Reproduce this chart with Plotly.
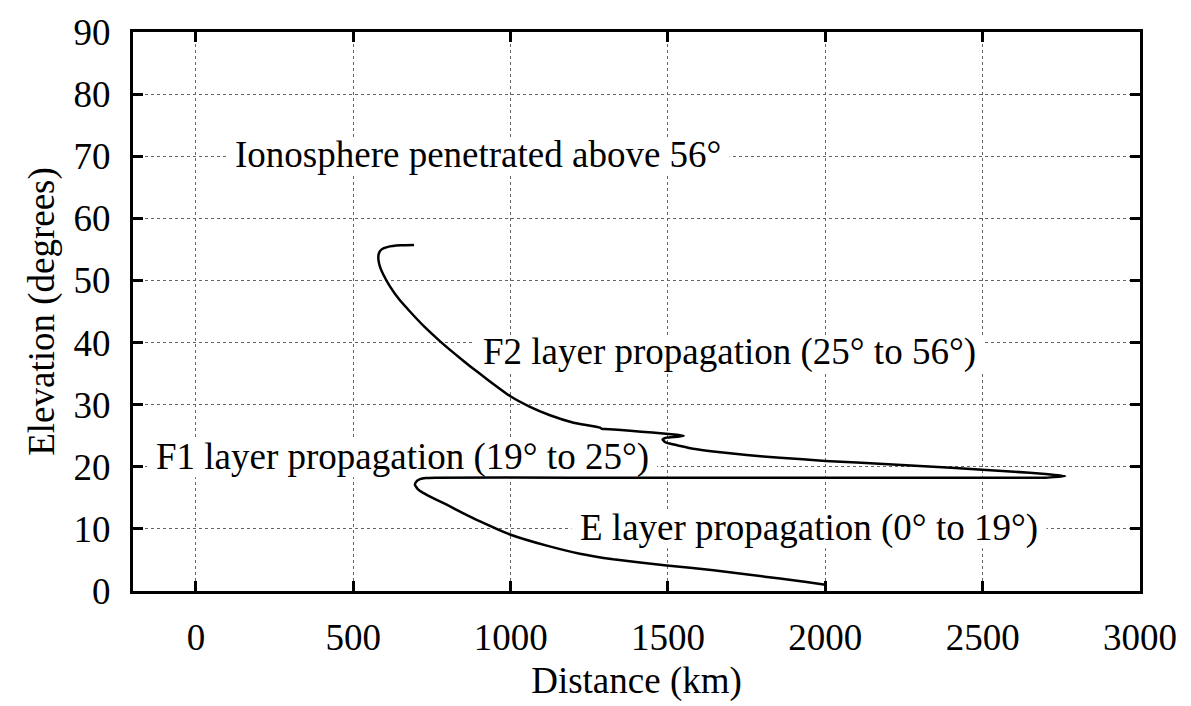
import plotly.graph_objects as go

# Ray trace: distance (km) vs launch elevation (degrees)
distance_km = [693, 650, 610, 590, 581, 580, 585, 595, 617, 645, 680, 725, 776, 820, 871, 930,
               998, 1060, 1125, 1200, 1284, 1290, 1300, 1380, 1450, 1520, 1550, 1530, 1495, 1483,
               1490, 1505, 1535, 1580, 1644, 1750, 1856, 2000, 2200, 2400, 2600, 2700, 2762,
               2700, 2000, 1200, 760, 730, 712, 700, 696, 705, 722, 760, 797,
               850, 903, 998, 1115, 1220, 1326, 1496, 1645, 1760, 1856, 1940, 2000]
elevation_deg = [55.7, 55.65, 55.4, 55.0, 54.3, 53.3, 52.2, 51.0, 49.0, 47.0, 45.0, 42.6, 40.2, 38.3, 36.2, 33.9,
                 31.4, 29.7, 28.3, 27.1, 26.3, 26.1, 26.1, 25.8, 25.5, 25.2, 25.0, 24.85, 24.7, 24.4,
                 24.0, 23.75, 23.4, 22.9, 22.45, 21.9, 21.45, 20.95, 20.4, 19.85, 19.2, 18.85, 18.5,
                 18.25, 18.25, 18.25, 18.25, 18.2, 18.0, 17.6, 17.1, 16.4, 15.8, 14.8, 13.9,
                 12.5, 11.2, 9.1, 7.3, 6.0, 5.1, 4.1, 3.35, 2.6, 2.0, 1.45, 1.0]

x_ticks = [0, 500, 1000, 1500, 2000, 2500, 3000]
y_ticks = [0, 10, 20, 30, 40, 50, 60, 70, 80, 90]

labels = ["Ionosphere penetrated above 56°",
          "F2 layer propagation (25° to 56°)",
          "F1 layer propagation (19° to 25°)",
          "E layer propagation (0° to 19°)"]
label_x = [896, 1697, 655, 1948]
label_y = [70, 38.1, 21.3, 9.9]

FONT = "Liberation Serif"

fig = go.Figure()
fig.add_trace(go.Scatter(x=distance_km, y=elevation_deg, mode="lines",
                         line=dict(color="black", width=2.5, shape="spline", smoothing=0.4),
                         showlegend=False))

# white backing boxes that hide gridlines behind the labels, drawn below the curve
half_w = [800, 810, 810, 755]   # km
for t, lx, ly, hw in zip(labels, label_x, label_y, half_w):
    fig.add_shape(type="rect", xref="x", yref="y", x0=lx - hw, x1=lx + hw,
                  y0=ly - 3.0, y1=ly + 3.0, fillcolor="white", line_width=0, layer="between")
    fig.add_annotation(x=lx, y=ly + 0.3, text=t, showarrow=False, xanchor="center", yanchor="middle",
                       font=dict(family=FONT, size=37, color="black"))

axis_common = dict(showline=True, linecolor="black", linewidth=3, mirror="ticks",
                   ticks="inside", ticklen=10, tickwidth=3, tickcolor="black",
                   showgrid=True, gridcolor="#666666", gridwidth=1, griddash="dot",
                   zeroline=False, tickfont=dict(family=FONT, size=37, color="black"),
                   title_font=dict(family=FONT, size=37, color="black"))

fig.update_xaxes(range=[-200, 3000], tickvals=x_ticks, title_text="Distance (km)",
                 ticklabelstandoff=12, title_standoff=10, **axis_common)
fig.update_yaxes(range=[0, 90], tickvals=y_ticks, title_text="Elevation (degrees)",
                 ticklabelstandoff=12, title_standoff=8, **axis_common)

fig.update_layout(width=1191, height=706, margin=dict(l=133, r=51, t=24, b=108),
                  plot_bgcolor="white", paper_bgcolor="white")

fig.write_html("out.html")
